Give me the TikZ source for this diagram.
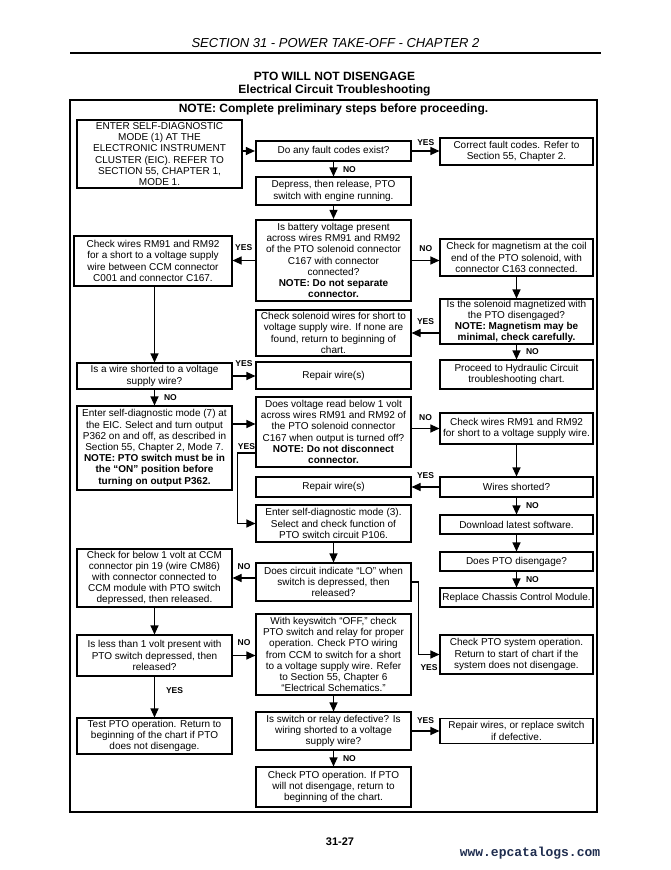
\documentclass[tikz,border=0pt]{standalone}
\usepackage{fontspec}
\setmainfont{Liberation Sans}
\newfontfamily\wmfont{Liberation Mono}
\usepackage{xcolor}
\usepackage{tikz}
\usetikzlibrary{arrows.meta,positioning,calc}
\newcommand{\bodytxt}{\fontsize{10}{11.2}\selectfont}
\definecolor{cwm}{HTML}{1F2D4F}
\tikzset{
  blk/.style={draw, line width=1.1pt, align=center, inner sep=1pt, font=\bodytxt, minimum width=155pt},
  rblk/.style={blk, minimum width=153pt},
  key/.style={blk, line width=2.2pt},
  yn/.style={font=\fontsize{8.5}{9}\selectfont\bfseries, inner sep=1pt},
  flow/.style={-{Triangle[length=9pt,width=8pt]}, line width=1.1pt},
  ttl/.style={font=\fontsize{12}{13}\selectfont\bfseries},
}

\begin{document}
\begin{tikzpicture}[x=1pt,y=-1pt]
\useasboundingbox (0,0) rectangle (671,870);
% page head
\node[font=\fontsize{13}{14}\selectfont\itshape] (sect) at (335.5,43) {SECTION 31 - POWER TAKE-OFF - CHAPTER 2};
\draw[line width=2pt] (70,53) -- (601,53);
\node[ttl] (title) at (334.5,76) {PTO WILL NOT DISENGAGE};
\node[ttl] (subtitle) at (334.5,90) {Electrical Circuit Troubleshooting};
\draw[line width=2pt] (69.5,100) rectangle (597,812);
\node[ttl] (note) at (333.5,109) {NOTE: Complete preliminary steps before proceeding.};

% left column
\node[key, line width=2.6pt, minimum width=165pt, minimum height=68pt] (eic) at (159.5,154) {ENTER SELF-DIAGNOSTIC\\MODE (1) AT THE\\ELECTRONIC INSTRUMENT\\CLUSTER (EIC). REFER TO\\SECTION 55, CHAPTER 1,\\MODE 1.};
\node[blk, minimum width=158pt, minimum height=50pt] (cwires) at (153,261) {Check wires RM91 and RM92\\for a short to a voltage supply\\wire between CCM connector\\C001 and connector C167.};
\node[blk, minimum height=26pt] (shorted) at (154.5,376) {Is a wire shorted to a voltage\\supply wire?};
\node[blk, minimum height=84pt] (enterdiag7) at (154.5,448) {Enter self-diagnostic mode (7) at\\the EIC. Select and turn output\\P362 on and off, as described in\\Section 55, Chapter 2, Mode 7.\\\textbf{NOTE: PTO switch must be in}\\\textbf{the “ON” position before}\\\textbf{turning on output P362.}};
\node[blk, minimum height=58pt] (checkbelow1) at (154.5,578) {Check for below 1 volt at CCM\\connector pin 19 (wire CM86)\\with connector connected to\\CCM module with PTO switch\\depressed, then released.};
\node[blk, minimum height=41pt] (lessthan1) at (154.5,655.5) {Is less than 1 volt present with\\PTO switch depressed, then\\released?};
\node[blk, minimum height=36pt] (testPTO) at (154.5,736) {Test PTO operation. Return to\\beginning of the chart if PTO\\does not disengage.};

% middle column
\node[key, minimum height=20pt] (fault) at (333.5,151) {Do any fault codes exist?};
\node[blk, minimum height=28pt] (depress) at (333.5,191) {Depress, then release, PTO\\switch with engine running.};
\node[key, minimum height=81pt] (battery) at (333.5,260.5) {Is battery voltage present\\across wires RM91 and RM92\\of the PTO solenoid connector\\C167 with connector\\connected?\\\textbf{NOTE: Do not separate}\\\textbf{connector.}};
\node[blk, minimum height=46pt] (solwires) at (333.5,333) {Check solenoid wires for short to\\voltage supply wire. If none are\\found, return to beginning of\\chart.};
\node[blk, minimum height=27pt] (repair1) at (333.5,375.5) {Repair wire(s)};
\node[blk, minimum height=70pt] (below1volt) at (333.5,432) {Does voltage read below 1 volt\\across wires RM91 and RM92 of\\the PTO solenoid connector\\C167 when output is turned off?\\\textbf{NOTE: Do not disconnect}\\\textbf{connector.}};
\node[blk, minimum height=20pt] (repair2) at (333.5,487) {Repair wire(s)};
\node[blk, minimum height=37pt] (enterdiag3) at (333.5,523.5) {Enter self-diagnostic mode (3).\\Select and check function of\\PTO switch circuit P106.};
\node[blk, minimum height=38pt] (indicateLO) at (333.5,582) {Does circuit indicate “LO” when\\switch is depressed, then\\released?};
\node[blk, minimum height=81pt] (keyswitch) at (333.5,654.5) {With keyswitch “OFF,” check\\PTO switch and relay for proper\\operation. Check PTO wiring\\from CCM to switch for a short\\to a voltage supply wire. Refer\\to Section 55, Chapter 6\\“Electrical Schematics.”};
\node[blk, minimum height=38pt] (switchdef) at (333.5,731) {Is switch or relay defective? Is\\wiring shorted to a voltage\\supply wire?};
\node[blk, minimum height=40pt] (checkPTO) at (333.5,787) {Check PTO operation. If PTO\\will not disengage, return to\\beginning of the chart.};

% right column
\node[rblk, minimum height=27pt] (correct) at (516.5,151.5) {Correct fault codes. Refer to\\Section 55, Chapter 2.};
\node[rblk, minimum height=37pt] (magnet) at (516.5,257.5) {Check for magnetism at the coil\\end of the PTO solenoid, with\\connector C163 connected.};
\node[rblk, minimum height=45pt] (magnetized) at (516.5,321.5) {Is the solenoid magnetized with\\the PTO disengaged?\\\textbf{NOTE: Magnetism may be}\\\textbf{minimal, check carefully.}};
\node[rblk, minimum height=29pt] (hydraulic) at (516.5,374.5) {Proceed to Hydraulic Circuit\\troubleshooting chart.};
\node[rblk, minimum height=31pt] (cwires2) at (516.5,428.5) {Check wires RM91 and RM92\\for short to a voltage supply wire.};
\node[rblk, minimum height=20pt] (wshorted) at (516.5,487) {Wires shorted?};
\node[rblk, minimum height=19pt] (download) at (516.5,524.5) {Download latest software.};
\node[rblk, minimum height=19pt] (disengage) at (516.5,561.5) {Does PTO disengage?};
\node[rblk, minimum height=19pt] (replace) at (516.5,597.5) {Replace Chassis Control Module.};
\node[rblk, minimum height=39pt] (ptosystem) at (516.5,654.5) {Check PTO system operation.\\Return to start of chart if the\\system does not disengage.};
\node[rblk, minimum height=25pt] (repairwires) at (516.5,731) {Repair wires, or replace switch\\if defective.};

% connectors
\coordinate (e7) at ([yshift=8pt]below1volt.west);
\coordinate (b1) at ([yshift=-21pt]below1volt.west);
\draw[flow] (eic.east |- fault.west) -- (fault.west);
\draw[flow] (fault.east) -- node[yn, above=4pt] (y1) {YES} (fault.east -| correct.west);
\draw[flow] (fault) -- node[yn, right=8pt] (n1) {NO} (depress);
\draw[flow] (depress) -- (battery);
\draw[flow] (battery.west) -- node[yn, above=8pt] (y2) {YES} (battery.west -| cwires.east);
\draw[flow] (battery.east) -- node[yn, above=7pt] (n2) {NO} (battery.east -| magnet.west);
\draw[flow] (magnet) -- (magnetized);
\draw[flow] (solwires.east -| magnetized.west) -- node[yn, above=7pt] (y3) {YES} (solwires.east);
\draw[flow] (magnetized) -- node[yn, right=8pt] (n3) {NO} (hydraulic);
\draw[flow] (cwires.south -| shorted.north) -- (shorted);
\draw[flow] (shorted.east) -- node[yn, above=8pt] (y4) {YES} (shorted.east -| repair1.west);
\draw[flow] (shorted) -- node[yn, right=8pt] (n4) {NO} (enterdiag7);
\draw[flow] (e7 -| enterdiag7.east) -- (e7);
\draw[flow] (cwires2.west -| below1volt.east) -- node[yn, above=6pt] (n5) {NO} (cwires2.west);
\draw[flow] (cwires2) -- (wshorted);
\draw[flow] (wshorted.west) -- node[yn, above=7pt] (y5) {YES} (wshorted.west -| repair2.east);
\draw[flow] (wshorted) -- node[yn, right=8pt] (n6) {NO} (download);
\draw[flow] (b1) -- node[yn, above=2pt] (y6) {YES} ++(-18,0) |- (enterdiag3.west);
\draw[flow] (download) -- (disengage);
\draw[flow] (disengage) -- node[yn, right=8pt] (n7) {NO} (replace);
\draw[flow] (enterdiag3) -- (indicateLO);
\draw[flow] (checkbelow1.east -| indicateLO.west) -- node[yn, above=7pt] (n8) {NO} (checkbelow1.east);
\draw[flow] (indicateLO.east) -- ++(7,0) |- node[yn, pos=0.75, below=9pt] (y7) {YES} (ptosystem.west);
\draw[flow] (checkbelow1) -- (lessthan1);
\draw[flow] (lessthan1.east) -- node[yn, above=8pt] (n9) {NO} (lessthan1.east -| keyswitch.west);
\draw[flow] (lessthan1) -- node[yn, pos=0.35, right=10pt] (y8) {YES} (testPTO);
\draw[flow] (keyswitch) -- (switchdef);
\draw[flow] (switchdef.east) -- node[yn, above=6pt] (y9) {YES} (switchdef.east -| repairwires.west);
\draw[flow] (switchdef) -- node[yn, right=8pt] (n10) {NO} (checkPTO);

% page foot
\node[font=\fontsize{11}{12}\selectfont\bfseries] (pageno) at (340,842) {31-27};
\node[font=\wmfont\fontsize{13}{14}\selectfont\bfseries, text=cwm] (wmark) at (530,853) {www.epcatalogs.com};
\end{tikzpicture}
\end{document}
